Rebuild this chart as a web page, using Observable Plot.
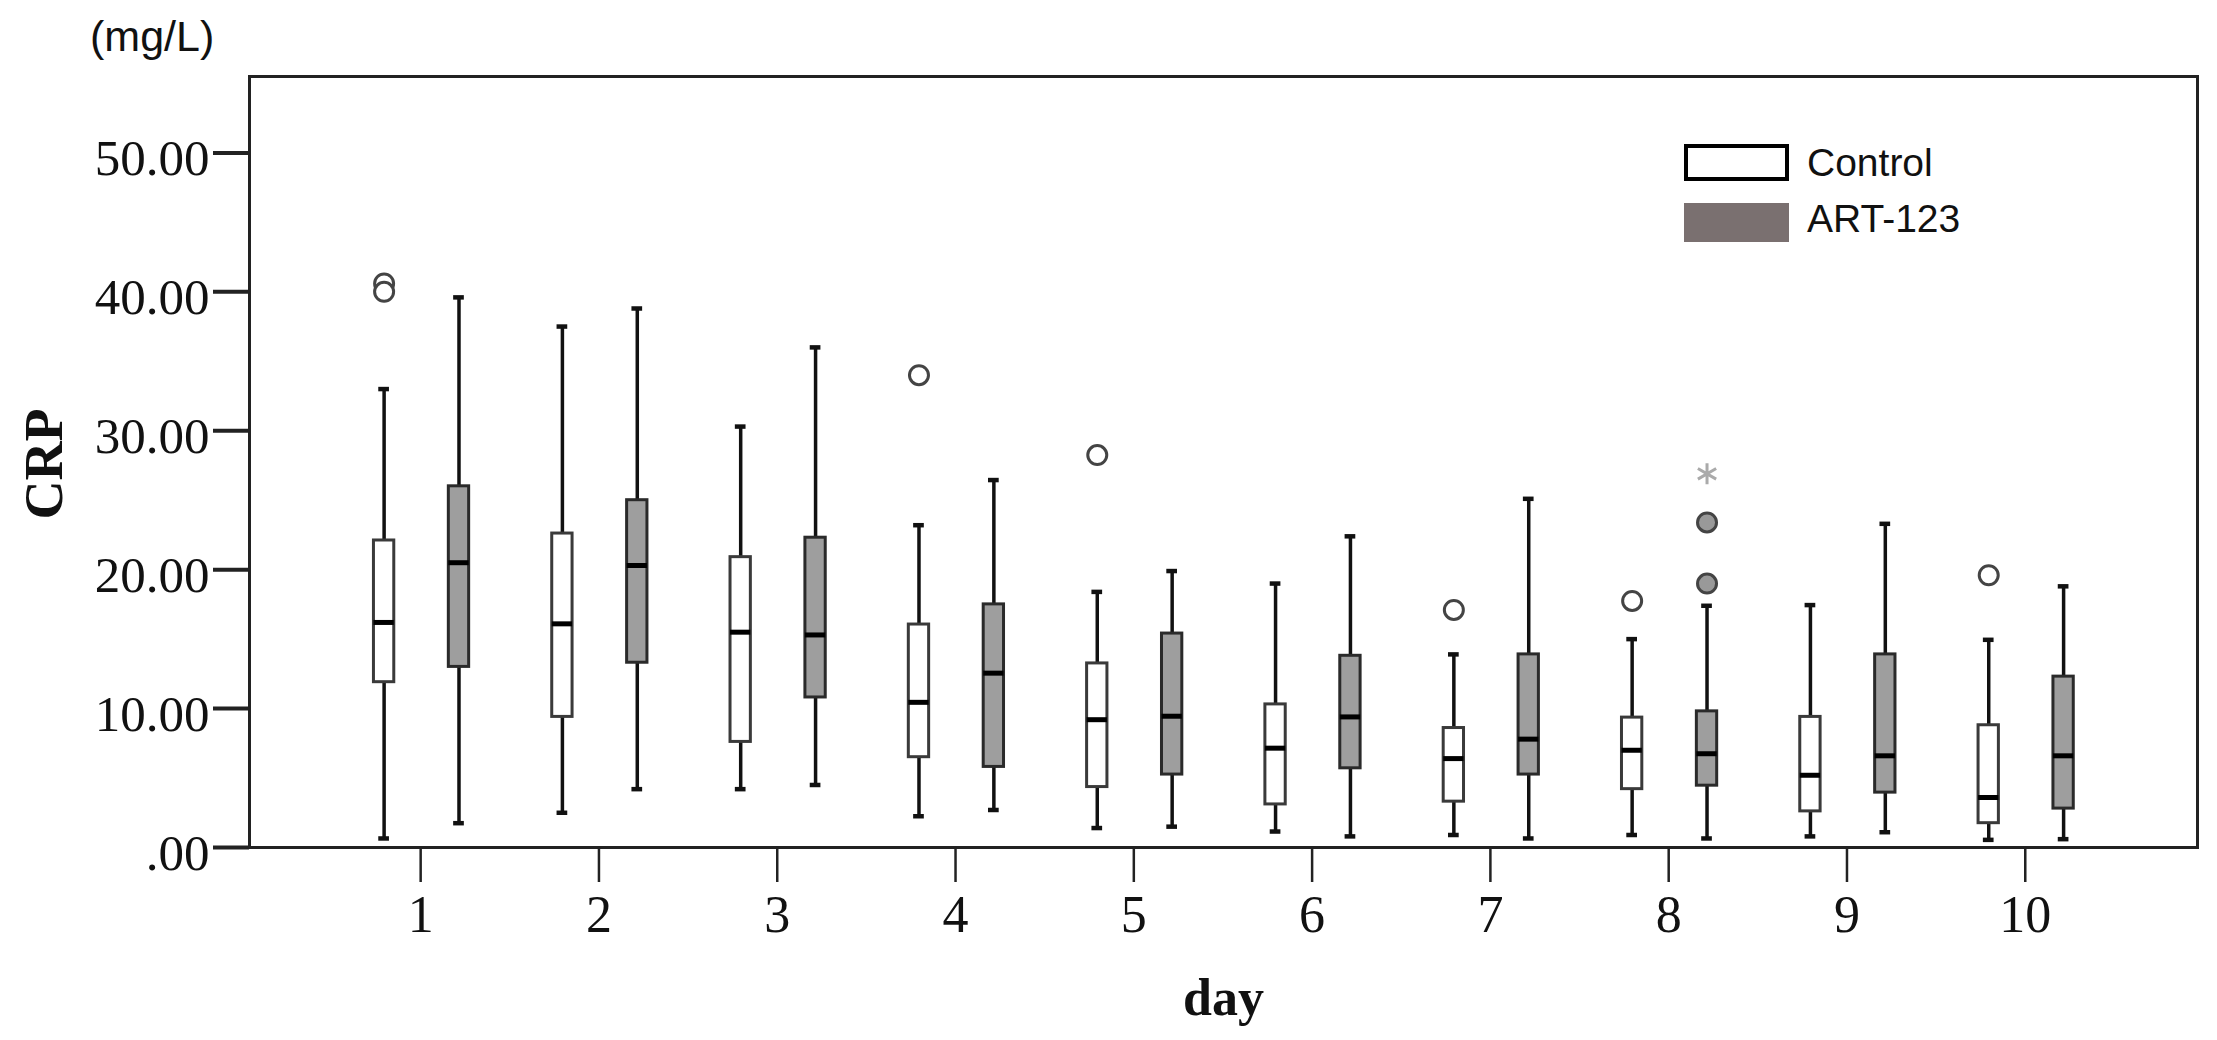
<!DOCTYPE html>
<html>
<head>
<meta charset="utf-8">
<script src="https://cdn.jsdelivr.net/npm/d3@7"></script>
<script src="https://cdn.jsdelivr.net/npm/@observablehq/plot@0.6"></script>
<style>
  html, body { margin: 0; padding: 0; background: #fff; }
  #wrap { position: relative; width: 2217px; height: 1040px; }
  .unit { position: absolute; left: 90px; top: 12px; font: 43px "Liberation Sans", Arial, sans-serif; color: #111; }
  .lg-box { position: absolute; left: 1684px; width: 105px; box-sizing: border-box; }
  .lg-text { position: absolute; left: 1807px; font: 39px "Liberation Sans", Arial, sans-serif; color: #111; line-height: 1; }
</style>
</head>
<body>
<div id="wrap">
  <div class="unit">(mg/L)</div>
  <div class="lg-box" style="top:144px;height:37px;border:4px solid #000;background:#fff"></div>
  <div class="lg-text" style="top:143px">Control</div>
  <div class="lg-box" style="top:203px;height:39px;background:#7a7070"></div>
  <div class="lg-text" style="top:199px">ART-123</div>
</div>
<script>
// ---- data ----
const days = [1, 2, 3, 4, 5, 6, 7, 8, 9, 10];
const groups = ["Control", "ART-123"];
const yTicks = [0, 10, 20, 30, 40, 50];

const ctlLow  = [0.65, 2.5, 4.2, 2.25, 1.4, 1.15, 0.9, 0.9, 0.8, 0.55];
const ctlQ1   = [11.9, 9.4, 7.6, 6.5, 4.35, 3.1, 3.3, 4.2, 2.6, 1.75];
const ctlMed  = [16.2, 16.1, 15.5, 10.45, 9.2, 7.15, 6.4, 7.0, 5.2, 3.6];
const ctlQ3   = [22.1, 22.6, 20.9, 16.05, 13.25, 10.3, 8.6, 9.35, 9.4, 8.8];
const ctlHigh = [33.0, 37.5, 30.3, 23.2, 18.4, 19.0, 13.9, 15.0, 17.45, 14.95];

const artLow  = [1.75, 4.2, 4.5, 2.7, 1.5, 0.8, 0.65, 0.65, 1.1, 0.6];
const artQ1   = [13.0, 13.3, 10.8, 5.8, 5.25, 5.7, 5.25, 4.45, 3.95, 2.8];
const artMed  = [20.5, 20.3, 15.3, 12.55, 9.45, 9.4, 7.8, 6.75, 6.6, 6.6];
const artQ3   = [26.0, 25.0, 22.3, 17.5, 15.4, 13.8, 13.9, 9.8, 13.9, 12.3];
const artHigh = [39.6, 38.8, 36.0, 26.45, 19.9, 22.4, 25.1, 17.4, 23.3, 18.8];

const ctlOutDay = [1, 1, 4, 5, 7, 8, 10];
const ctlOutVal = [40.6, 40.0, 34.0, 28.25, 17.1, 17.75, 19.6];
const artOutDay = [8, 8];
const artOutVal = [23.4, 19.0];
const artExtDay = [8];
const artExtVal = [26.9];

// ---- layout (not data) ----
const offset = {"Control": -0.205, "ART-123": 0.215};
const boxHalf = 0.057;
const capHalf = 0.03;

const rows = days.flatMap((d, i) => [
  {day: d, group: groups[0], lo: ctlLow[i], q1: ctlQ1[i], med: ctlMed[i], q3: ctlQ3[i], hi: ctlHigh[i]},
  {day: d, group: groups[1], lo: artLow[i], q1: artQ1[i], med: artMed[i], q3: artQ3[i], hi: artHigh[i]}
]);
const ctlOut = ctlOutDay.map((d, i) => ({day: d, group: groups[0], v: ctlOutVal[i]}));
const artOut = artOutDay.map((d, i) => ({day: d, group: groups[1], v: artOutVal[i]}));
const artExt = artExtDay.map((d, i) => ({day: d, group: groups[1], v: artExtVal[i]}));

const xc = d => d.day + offset[d.group];
const serif = "Liberation Serif, Times New Roman, serif";

const chart = Plot.plot({
  width: 2217,
  height: 1040,
  marginLeft: 249,
  marginRight: 20,
  marginTop: 76,
  marginBottom: 193,
  style: {background: "transparent", fontFamily: serif, color: "#111", overflow: "visible"},
  x: {type: "linear", domain: [0.04, 10.966]},
  y: {domain: [0, 55.5]},
  marks: [
    // whiskers
    Plot.ruleX(rows, {x: xc, y1: "lo", y2: "q1", stroke: "#111", strokeWidth: 3.5}),
    Plot.ruleX(rows, {x: xc, y1: "q3", y2: "hi", stroke: "#111", strokeWidth: 3.5}),
    Plot.ruleY(rows, {y: "lo", x1: d => xc(d) - capHalf, x2: d => xc(d) + capHalf, stroke: "#111", strokeWidth: 4.5}),
    Plot.ruleY(rows, {y: "hi", x1: d => xc(d) - capHalf, x2: d => xc(d) + capHalf, stroke: "#111", strokeWidth: 4.5}),
    // boxes
    Plot.rect(rows.filter(d => d.group === groups[0]), {x1: d => xc(d) - boxHalf, x2: d => xc(d) + boxHalf, y1: "q1", y2: "q3", fill: "#fff", stroke: "#3a3a3a", strokeWidth: 3}),
    Plot.rect(rows.filter(d => d.group === groups[1]), {x1: d => xc(d) - boxHalf, x2: d => xc(d) + boxHalf, y1: "q1", y2: "q3", fill: "#9e9e9e", stroke: "#2a2a2a", strokeWidth: 3}),
    // medians
    Plot.ruleY(rows, {y: "med", x1: d => xc(d) - boxHalf, x2: d => xc(d) + boxHalf, stroke: "#000", strokeWidth: 5}),
    // outliers
    Plot.dot(ctlOut, {x: xc, y: "v", r: 9.5, fill: "#fff", stroke: "#444", strokeWidth: 3}),
    Plot.dot(artOut, {x: xc, y: "v", r: 9.5, fill: "#999", stroke: "#444", strokeWidth: 3}),
    Plot.dot(artExt, {x: xc, y: "v", r: 10, symbol: "asterisk", stroke: "#aaa", strokeWidth: 3}),
    // frame
    Plot.frame({stroke: "#222", strokeWidth: 3}),
    // y axis: ticks and labels
    Plot.axisY({ticks: yTicks, tickSize: 36, fill: "none", stroke: "#222", strokeWidth: 4, label: null}),
    Plot.axisY({ticks: yTicks, tickSize: 0, tickPadding: 40, dy: 6, tickFormat: d => d === 0 ? ".00" : d.toFixed(2), fontSize: 51, fontFamily: serif, fill: "#111", label: null}),
    // x axis: ticks and labels
    Plot.axisX({ticks: days, tickSize: 35, fill: "none", stroke: "#222", strokeWidth: 2.5, label: null}),
    Plot.axisX({ticks: days, tickSize: 0, tickPadding: 48, tickFormat: d => String(d), fontSize: 52, fontFamily: serif, fill: "#111", label: null}),
    // axis titles
    Plot.text(["CRP"], {frameAnchor: "left", textAnchor: "middle", dx: -205, dy: 2, rotate: -90, text: d => d, fontSize: 54, fontWeight: "bold", fontFamily: serif, fill: "#111"}),
    Plot.text(["day"], {frameAnchor: "bottom", textAnchor: "middle", dy: 167, text: d => d, fontSize: 52, fontWeight: "bold", fontFamily: serif, fill: "#111"})
  ]
});
chart.style.position = "absolute";
chart.style.left = "0px";
chart.style.top = "0px";
document.getElementById("wrap").prepend(chart);
</script>
</body>
</html>
